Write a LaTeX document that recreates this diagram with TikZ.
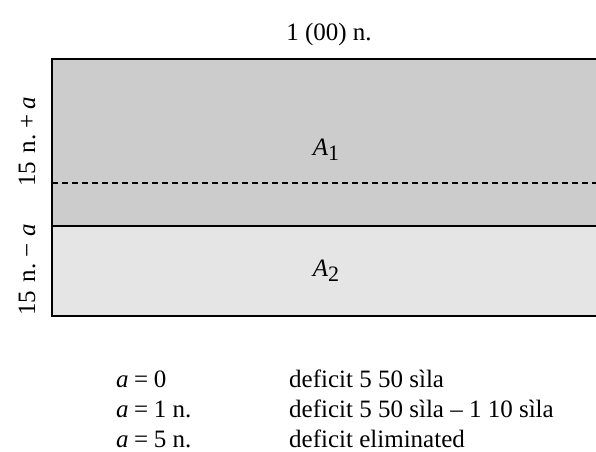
\documentclass[tikz,border=0pt]{standalone}
\usepackage{fontspec}
\setmainfont{Liberation Serif}
\tikzset{
  lbl/.style={inner sep=0pt, font=\fontsize{25}{29}\selectfont},
}
\newcommand{\mysub}[1]{\raisebox{-0.45ex}{\fontsize{22}{25}\selectfont #1}}
\newcommand{\eqsp}{\hspace{0.22em}=\hspace{0.22em}}
\begin{document}
\begin{tikzpicture}[x=1pt,y=-1pt]
\useasboundingbox (0,0) rectangle (596,451);
% regions
\fill[gray!40] (52,59) rectangle (600,226);
\fill[gray!20] (52,226) rectangle (600,316);
\draw[line width=1.4pt, dash pattern=on 6pt off 4pt] (52,183) -- (600,183);
\draw[line width=1.4pt] (52,226) -- (600,226);
\draw[line width=1.4pt] (600,59) -- (52,59) -- (52,316) -- (600,316);
% labels
\node[lbl, anchor=base] (top) at (329,40) {1 (00) n.};
\node[lbl] (A1) at (326,150) {\textit{A}\mysub{1}};
\node[lbl] (A2) at (326,271) {\textit{A}\mysub{2}};
\node[lbl, rotate=90] (l1) at (27,142) {15\hspace{0.35em}n.\ +\,\textit{a}};
\node[lbl, rotate=90] (l2) at (27,270) {15\hspace{0.35em}n.\ −\ \textit{a}};
% table
\node[lbl, anchor=base west] (r1a) at (116,387) {\textit{a}\eqsp 0};
\node[lbl, anchor=base west] (r2a) at (116,417) {\textit{a}\eqsp 1 n.};
\node[lbl, anchor=base west] (r3a) at (116,447) {\textit{a}\eqsp 5 n.};
\node[lbl, anchor=base west] (r1b) at (289,387) {deficit 5 50 sìla};
\node[lbl, anchor=base west] (r2b) at (289,417) {deficit 5 50 sìla – 1 10 sìla};
\node[lbl, anchor=base west] (r3b) at (289,447) {deficit eliminated};
\end{tikzpicture}
\end{document}
